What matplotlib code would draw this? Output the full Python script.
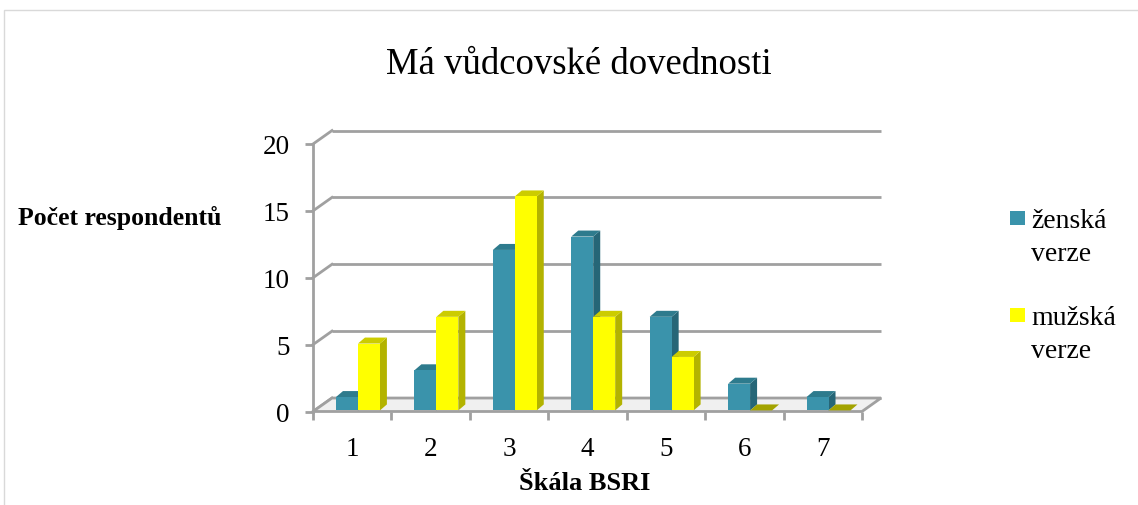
import matplotlib
matplotlib.use("Agg")
import matplotlib.pyplot as plt
from matplotlib.patches import Polygon, Rectangle

# ---- data ----
categories = ["1", "2", "3", "4", "5", "6", "7"]
series_names = ["ženská verze", "mužská verze"]
zenska = [1, 3, 12, 13, 7, 2, 1]
muzska = [5, 7, 16, 7, 4, 0, 0]
yticks = [0, 5, 10, 15, 20]
title = "Má vůdcovské dovednosti"
ylabel = "Počet respondentů"
xlabel = "Škála BSRI"

# ---- styles ----
W, H = 1138, 506
fig = plt.figure(figsize=(W / 100, H / 100), dpi=100)
serif = ["Liberation Serif", "DejaVu Serif"]

front_cols = ["#3A93AB", "#FFFF00"]
side_cols = ["#266677", "#B3B300"]
top_cols = ["#2E7B8D", "#CCCC00"]
flat_cols = ["#2E7B8D", "#A3A300"]
grid_col = "#A0A0A0"

# axes = front plane
x0, x1 = 313, 862
y0, y1 = 412.5, 145
ax = fig.add_axes([x0 / W, 1 - y0 / H, (x1 - x0) / W, (y0 - y1) / H])
n = len(categories)
ax.set_xlim(0, n)
ax.set_ylim(0, 20)
ax.patch.set_alpha(0)

# depth offsets (data units)
dx, dy = 19 / 78.43, 13.5 / 13.4
bdx, bdy = 7 / 78.43, 6 / 13.4
lw = 2.0

# back wall gridlines and diagonals
for v in yticks:
    ax.plot([dx, n + dx], [v + dy, v + dy], color=grid_col, lw=lw, clip_on=False,
            solid_capstyle="butt", zorder=1)
    ax.plot([0, dx], [v, v + dy], color=grid_col, lw=lw, clip_on=False, zorder=1)

# floor
floor = Polygon([(0, 0), (n, 0), (n + dx, dy), (dx, dy)], closed=True,
                facecolor="#F0F0F0", edgecolor=grid_col, lw=lw, clip_on=False, zorder=2)
ax.add_patch(floor)

# bars
width = 0.28
offsets = [0.293, 0.573]
base = 0.08
for i in range(n):
    for s, vals in enumerate([zenska, muzska]):
        v = vals[i]
        left = i + offsets[s]
        if v == 0:
            ax.add_patch(Polygon([(left, base), (left + width, base),
                                  (left + width + bdx, base + bdy), (left + bdx, base + bdy)],
                                 closed=True, facecolor=flat_cols[s], edgecolor="none",
                                 zorder=3, clip_on=False))
            continue
        top = base + v
        # side face
        ax.add_patch(Polygon([(left + width, base), (left + width + bdx, base + bdy),
                              (left + width + bdx, top + bdy), (left + width, top)],
                             closed=True, facecolor=side_cols[s], edgecolor="none",
                             zorder=3, clip_on=False))
        # top face
        ax.add_patch(Polygon([(left, top), (left + width, top),
                              (left + width + bdx, top + bdy), (left + bdx, top + bdy)],
                             closed=True, facecolor=top_cols[s], edgecolor="none",
                             zorder=3, clip_on=False))
        # front face
        ax.bar(left, v, width=width, bottom=base, align="edge",
               color=front_cols[s], edgecolor="none", zorder=3)

# axes styling
for sp in ["top", "right", "bottom"]:
    ax.spines[sp].set_visible(False)
ax.spines["left"].set_color(grid_col)
ax.spines["left"].set_linewidth(lw)
ax.set_yticks(yticks)
ax.set_yticklabels([str(t) for t in yticks], fontsize=19.5, family=serif)
ax.tick_params(axis="y", length=6, width=lw, color=grid_col, pad=11)
ax.set_xticks(range(n + 1))
ax.set_xticklabels([""] * (n + 1))
ax.tick_params(axis="x", which="major", length=6, width=lw, color=grid_col, direction="out")
ax.set_xticks([i + 0.5 for i in range(n)], minor=True)
ax.set_xticklabels(categories, minor=True, fontsize=19.5, family=serif)
ax.tick_params(axis="x", which="minor", length=0, pad=18)

# texts
fig.text(579 / W, 1 - 65 / H, title, ha="center", va="center", fontsize=26.5, family=serif)
fig.text(120 / W, 1 - 218 / H, ylabel, ha="center", va="center", fontsize=18.5,
         family=serif, weight="bold")
fig.text(585 / W, 1 - 484 / H, xlabel, ha="center", va="center", fontsize=19,
         family=serif, weight="bold")

# legend (manual)
leg_tops = [212, 309]
for s, name in enumerate(series_names):
    ty = leg_tops[s]
    fig.patches.append(Rectangle((1010 / W, 1 - (ty + 14) / H), 15 / W, 14 / H,
                                 transform=fig.transFigure, facecolor=front_cols[s],
                                 edgecolor="none"))
    for k, line in enumerate(name.split(" ")):
        fig.text(1031 / W, 1 - (ty + 16 + 33 * k) / H, line, ha="left", va="baseline",
                 fontsize=20, family=serif)

# chart border
fig.patches.append(Rectangle((4 / W, -0.1), 1.2, 1 - 11 / H + 0.1,
                             transform=fig.transFigure, facecolor="none",
                             edgecolor="#D9D9D9", lw=1.0))

fig.savefig("out.png", dpi=100)
